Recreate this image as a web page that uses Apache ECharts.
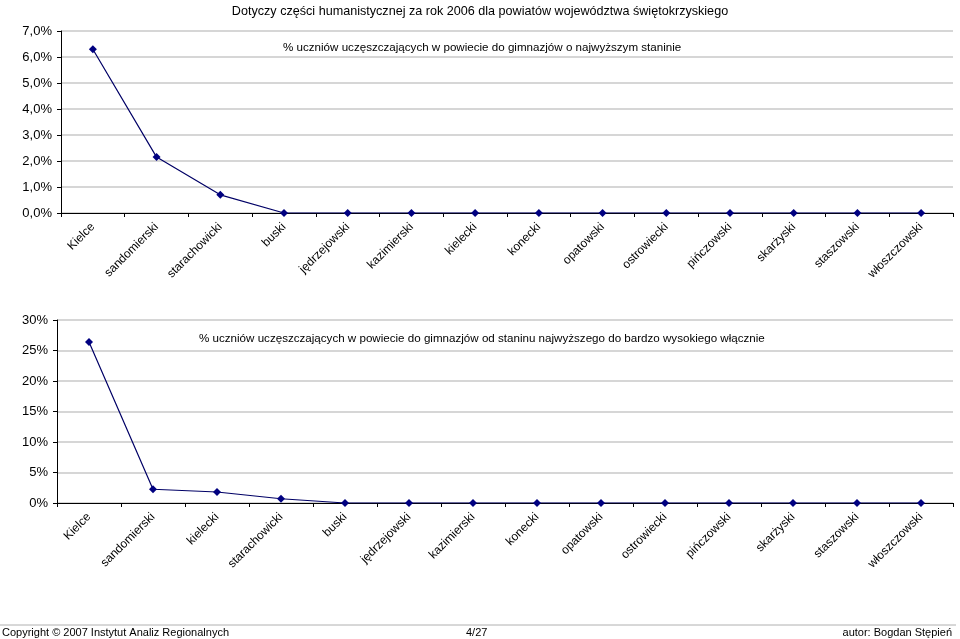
<!DOCTYPE html>
<html>
<head>
<meta charset="utf-8">
<script src="https://cdn.jsdelivr.net/npm/echarts@6/dist/echarts.min.js"></script>
<style>
html,body{margin:0;padding:0;background:#fff;}
#chart{width:960px;height:639px;}
</style>
</head>
<body>
<div id="chart"></div>
<script>
const titleText = 'Dotyczy części humanistycznej za rok 2006 dla powiatów województwa świętokrzyskiego';
const topLabel = '% uczniów uczęszczających w powiecie do gimnazjów o najwyższym staninie';
const bottomLabel = '% uczniów uczęszczających w powiecie do gimnazjów od staninu najwyższego do bardzo wysokiego włącznie';
const topCategories = ['Kielce','sandomierski','starachowicki','buski','jędrzejowski','kazimierski','kielecki','konecki','opatowski','ostrowiecki','pińczowski','skarżyski','staszowski','włoszczowski'];
const topValues = [6.3, 2.15, 0.7, 0, 0, 0, 0, 0, 0, 0, 0, 0, 0, 0];
const bottomCategories = ['Kielce','sandomierski','kielecki','starachowicki','buski','jędrzejowski','kazimierski','konecki','opatowski','ostrowiecki','pińczowski','skarżyski','staszowski','włoszczowski'];
const bottomValues = [26.4, 2.25, 1.8, 0.7, 0, 0, 0, 0, 0, 0, 0, 0, 0, 0];
const footerLeft = 'Copyright © 2007 Instytut Analiz Regionalnych';
const footerMid = '4/27';
const footerRight = 'autor: Bogdan Stępień';

const FONT = '"Liberation Sans", Arial, sans-serif';
const chart = echarts.init(document.getElementById('chart'));

function xAxis(idx, cats) {
  return {
    type: 'category', gridIndex: idx, data: cats, boundaryGap: true,
    axisLine: {lineStyle: {color: '#000', width: 1}},
    axisTick: {show: true, length: 4, lineStyle: {color: '#000'}},
    axisLabel: {rotate: 45, interval: 0, margin: 12, color: '#000', fontSize: 12, fontFamily: FONT},
    splitLine: {show: false}
  };
}
function yAxis(idx, max, interval, fmt) {
  return {
    type: 'value', gridIndex: idx, min: 0, max: max, interval: interval,
    axisLine: {show: true, lineStyle: {color: '#000', width: 1}},
    axisTick: {show: true, length: 4, lineStyle: {color: '#000'}},
    axisLabel: {color: '#000', fontSize: 13, fontFamily: FONT, margin: 9, formatter: fmt},
    splitLine: {show: true, lineStyle: {color: '#c8c8c8', width: 1.5}}
  };
}
function series(idx, vals) {
  return {
    type: 'line', xAxisIndex: idx, yAxisIndex: idx, data: vals,
    symbol: 'diamond', symbolSize: 8, showAllSymbol: true,
    lineStyle: {color: '#000066', width: 1.2},
    itemStyle: {color: '#000080'},
    animation: false
  };
}
const ts = (size) => ({fontSize: size, fontWeight: 'normal', color: '#000', fontFamily: FONT, lineHeight: size + 1});

chart.setOption({
  animation: false,
  backgroundColor: '#fff',
  title: [
    {text: titleText, left: 'center', top: 0, textStyle: ts(12.6)},
    {text: topLabel, left: 278, top: 36, textStyle: ts(11.6)},
    {text: bottomLabel, left: 194, top: 327, textStyle: ts(11.6)},
    {text: footerLeft, left: 2, top: 627, padding: [0, 0, 0, 0], textStyle: ts(11)},
    {text: footerMid, left: 466, top: 627, padding: [0, 0, 0, 0], textStyle: ts(11)},
    {text: footerRight, right: 8, top: 627, padding: [0, 0, 0, 0], textStyle: ts(11)}
  ],
  graphic: [
    {type: 'line', shape: {x1: 0, y1: 625, x2: 956, y2: 625}, style: {stroke: '#b0b0b0', lineWidth: 1}}
  ],
  grid: [
    {left: 61, right: 7, top: 31, height: 182, containLabel: false},
    {left: 57, right: 7, top: 320, height: 183, containLabel: false}
  ],
  xAxis: [xAxis(0, topCategories), xAxis(1, bottomCategories)],
  yAxis: [
    yAxis(0, 7, 1, v => v.toFixed(1).replace('.', ',') + '%'),
    yAxis(1, 30, 5, v => v + '%')
  ],
  series: [series(0, topValues), series(1, bottomValues)]
});
</script>
</body>
</html>
